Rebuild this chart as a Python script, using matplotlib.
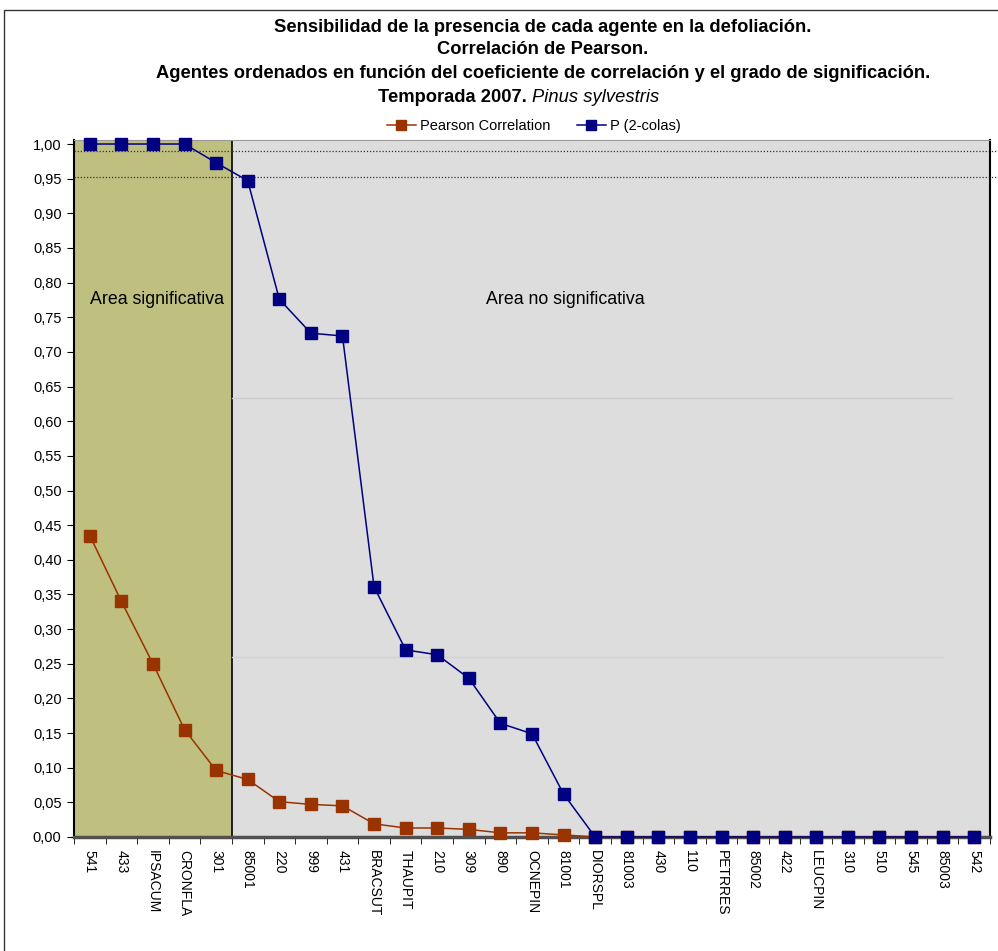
import matplotlib.pyplot as plt
import numpy as np
from matplotlib.patches import Rectangle
from matplotlib.ticker import FixedLocator, FuncFormatter

plt.rcParams['font.family'] = ['Liberation Sans', 'DejaVu Sans']

agentes = ["541", "433", "IPSACUM", "CRONFLA", "301", "85001", "220", "999", "431",
           "BRACSUT", "THAUPIT", "210", "309", "890", "OCNEPIN", "81001", "DIORSPL",
           "81003", "430", "110", "PETRRES", "85002", "422", "LEUCPIN", "310", "510",
           "545", "85003", "542"]
pearson = [0.435, 0.340, 0.250, 0.155, 0.096, 0.083, 0.051, 0.047, 0.045, 0.019,
           0.013, 0.013, 0.011, 0.006, 0.006, 0.003, 0.0, 0.0, 0.0, 0.0, 0.0, 0.0,
           0.0, 0.0, 0.0, 0.0, 0.0, 0.0, 0.0]
p_2colas = [1.0, 1.0, 1.0, 1.0, 0.973, 0.947, 0.776, 0.727, 0.723, 0.361, 0.270,
            0.263, 0.229, 0.164, 0.149, 0.062, 0.0, 0.0, 0.0, 0.0, 0.0, 0.0, 0.0,
            0.0, 0.0, 0.0, 0.0, 0.0, 0.0]
n_signif = 5
umbrales = [0.990, 0.953]

x = np.arange(len(agentes))

fig = plt.figure(figsize=(9.98, 9.51), dpi=100)
ax = fig.add_axes([74/998, 114/951, 916/998, 697/951])

# marco exterior del grafico
fig.patches.append(Rectangle((4/998, -0.1), 1.1, 1 - 10/951 + 0.1, transform=fig.transFigure,
                             fill=False, edgecolor="#333333", linewidth=1.0))

ax.set_xlim(-0.5, len(agentes) - 0.5)
ax.set_ylim(0, 1.0058)

ax.axvspan(-0.5, n_signif - 0.5, color="#bfbf80", zorder=0)
ax.axvspan(n_signif - 0.5, len(agentes) - 0.5, color="#dddddd", zorder=0)
ax.axvline(n_signif - 0.5, color="black", linewidth=1.2, zorder=1)

# lineas tenues del fondo
ax.plot([n_signif - 0.5, 27.3], [0.633, 0.633], color="#cdcdcd", linewidth=1, zorder=1)
ax.plot([n_signif - 0.5, 27.0], [0.260, 0.260], color="#d2d2d2", linewidth=1, zorder=1)

for u in umbrales:
    ax.plot([n_signif - 0.5, len(agentes) - 0.5 + 0.2], [u, u], color="#333333",
            linestyle=(0, (1, 1.5)), linewidth=0.9, clip_on=False, zorder=2)
    ax.plot([-0.5, n_signif - 0.5], [u, u], color="#333333",
            linestyle=(0, (1, 1.5)), linewidth=0.9, zorder=2)

ax.plot(x, pearson, color="#993300", marker="s", markersize=9, linewidth=1.1,
        label="Pearson Correlation", zorder=3, clip_on=False)
ax.plot(x, p_2colas, color="#000080", marker="s", markersize=9, linewidth=1.1,
        label="P (2-colas)", zorder=4, clip_on=False)

ax.text(2.13, 0.775, "Area significativa", ha="center", va="center", fontsize=12.8)
ax.text(15.04, 0.775, "Area no significativa", ha="center", va="center", fontsize=12.8)

ax.yaxis.set_major_locator(FixedLocator(np.arange(0, 1.001, 0.05)))
ax.yaxis.set_major_formatter(FuncFormatter(lambda v, pos: f"{v:.2f}".replace(".", ",")))
ax.tick_params(axis="y", direction="out", length=5, labelsize=10.5, pad=4)

ax.set_xticks(x)
ax.set_xticklabels(agentes, rotation=-90, fontsize=10)
ax.set_xticks(np.arange(-0.5, len(agentes), 1), minor=True)
ax.tick_params(axis="x", which="major", length=0, pad=9)
ax.tick_params(axis="x", which="minor", length=5, direction="out")

ax.spines["left"].set_linewidth(1.5)
ax.spines["right"].set_linewidth(1.5)
ax.spines["top"].set_color("#999999")
ax.spines["top"].set_linewidth(0.8)
ax.spines["bottom"].set_color("#505050")
ax.spines["bottom"].set_linewidth(2.5)

cx = 543 / 998
fig.text(cx, 1 - 27/951, "Sensibilidad de la presencia de cada agente en la defoliación.",
         ha="center", va="center", fontsize=13.2, fontweight="bold")
fig.text(cx, 1 - 50/951, "Correlación de Pearson.",
         ha="center", va="center", fontsize=13.2, fontweight="bold")
fig.text(cx, 1 - 74/951,
         "Agentes ordenados en función del coeficiente de correlación y el grado de significación.",
         ha="center", va="center", fontsize=13.2, fontweight="bold")
fig.text(0.533, 1 - 98/951, "Temporada 2007. ", ha="right", va="center",
         fontsize=13.2, fontweight="bold")
fig.text(0.533, 1 - 98/951, "Pinus sylvestris", ha="left", va="center",
         fontsize=13.2, style="italic")

fig.legend(loc="center", bbox_to_anchor=(0.535, 1 - 126/951), ncol=2, frameon=False,
           fontsize=10.5, handlelength=2.0, columnspacing=1.8, handletextpad=0.3,
           markerscale=0.85)

fig.savefig("out.png", dpi=100)
